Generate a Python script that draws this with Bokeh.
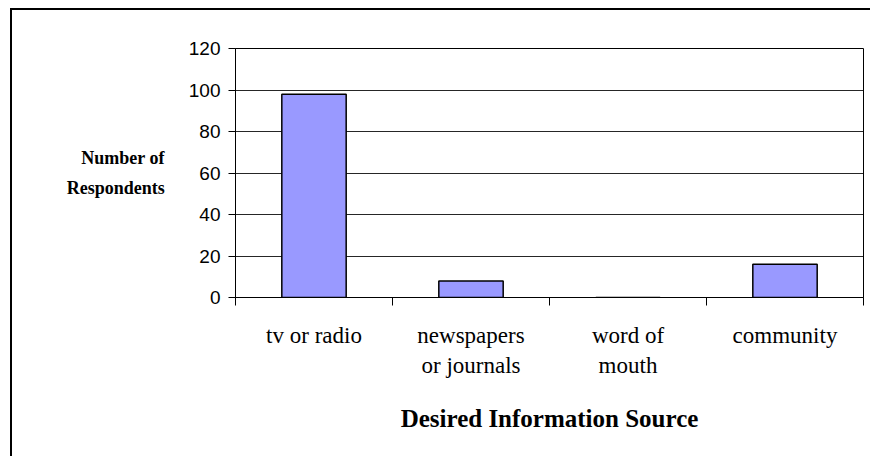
from bokeh.plotting import figure
from bokeh.models import Range1d, FixedTicker, ColumnDataSource, CustomJSTickFormatter
from bokeh.embed import file_html
from bokeh.resources import INLINE

categories = ["tv or radio", "newspapers\nor journals", "word of\nmouth", "community"]
respondents = [98, 8, 0, 16]
y_ticks = [0, 20, 40, 60, 80, 100, 120]

n = len(categories)
centers = [i + 0.5 for i in range(n)]
bounds = [float(i) for i in range(n + 1)]

src = ColumnDataSource(dict(x=centers, top=respondents))

p = figure(width=860, height=448, output_backend="svg", toolbar_location=None,
           x_range=Range1d(0, n), y_range=Range1d(0, 120),
           min_border_left=223, min_border_top=38, min_border_right=9, min_border_bottom=161)
p.margin = (8, 0, 0, 10)
p.styles = {"border-left": "2px solid black", "border-top": "2px solid black"}

p.vbar(x="x", top="top", width=0.41, bottom=0, source=src,
       fill_color="#9999FF", line_color="black", line_width=1.5)

p.outline_line_color = "black"
p.outline_line_width = 1
p.xgrid.visible = False
p.ygrid.grid_line_color = "black"
p.ygrid.grid_line_alpha = 0.85
p.ygrid.ticker = FixedTicker(ticks=y_ticks)

xa = p.xaxis[0]
xa.ticker = FixedTicker(ticks=centers, minor_ticks=bounds)
xa.formatter = CustomJSTickFormatter(args=dict(labels=categories),
                                     code="return labels[Math.floor(tick)];")
xa.major_tick_out = 0
xa.major_tick_in = 0
xa.minor_tick_out = 8
xa.minor_tick_in = 0
xa.minor_tick_line_color = "black"
xa.axis_line_color = "black"
xa.major_label_text_font = "Liberation Serif, DejaVu Serif, serif"
xa.major_label_text_font_style = "normal"
xa.major_label_text_font_size = "23px"
xa.major_label_text_color = "black"
xa.major_label_standoff = 17
xa.axis_label = "Desired Information Source"
xa.axis_label_text_font = "Liberation Serif"
xa.axis_label_text_font_style = "bold"
xa.axis_label_text_font_size = "25px"
xa.axis_label_text_color = "black"
xa.axis_label_standoff = 24

ya = p.yaxis[0]
ya.ticker = FixedTicker(ticks=y_ticks)
ya.major_tick_out = 7
ya.major_tick_in = 0
ya.minor_tick_line_color = None
ya.axis_line_color = "black"
ya.major_label_text_font = "Liberation Sans"
ya.major_label_text_font_size = "19px"
ya.major_label_text_color = "black"
ya.major_label_standoff = 8
ya.axis_label = "Number of\nRespondents"
ya.axis_label_orientation = "horizontal"
ya.axis_label_text_font = "Liberation Serif"
ya.axis_label_text_font_style = "bold"
ya.axis_label_text_font_size = "18px"
ya.axis_label_text_color = "black"
ya.axis_label_text_align = "center"
ya.axis_label_text_line_height = 1.5
ya.axis_label_standoff = 21

open("out.html", "w").write(file_html(p, INLINE))
